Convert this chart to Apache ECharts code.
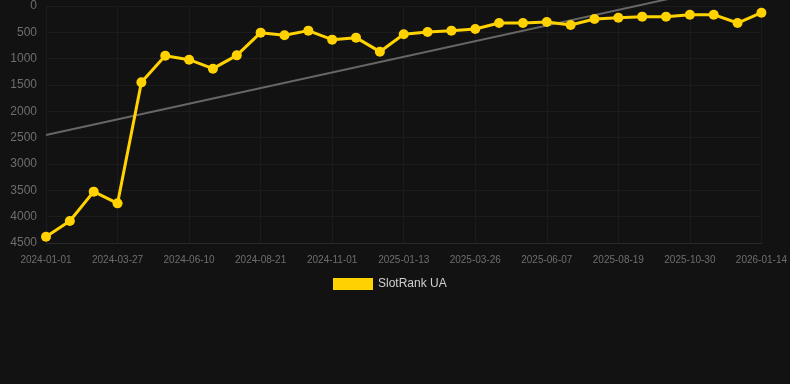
<!DOCTYPE html>
<html><head><meta charset="utf-8">
<script src="https://cdn.jsdelivr.net/npm/echarts@6/dist/echarts.min.js"></script>
<style>html,body{margin:0;padding:0;background:#121212;}#c{width:790px;height:384px;}</style>
</head><body><div id="c"></div>
<script>
const categories = ['2024-01-01','2024-01-30','2024-02-27','2024-03-27','2024-04-21','2024-05-16','2024-06-10','2024-07-04','2024-07-28','2024-08-21','2024-09-14','2024-10-08','2024-11-01','2024-11-25','2024-12-19','2025-01-13','2025-02-06','2025-03-02','2025-03-26','2025-04-19','2025-05-14','2025-06-07','2025-07-01','2025-07-26','2025-08-19','2025-09-12','2025-10-06','2025-10-30','2025-11-24','2025-12-19','2026-01-14'];
const rankValues = [4380,4082,3525,3747,1450,943,1019,1190,937,506,557,468,639,601,867,538,494,468,437,323,323,304,361,247,222,202,202,165,165,323,127];
const trendStart = 2450;
const trendEnd = -520;
const yTicks = {min:0, max:4500, interval:500};

const trendData = categories.map((c,i)=> i===0 ? trendStart : (i===categories.length-1 ? trendEnd : null));

const chart = echarts.init(document.getElementById('c'));
chart.setOption({
  backgroundColor:'#121212',
  animation:false,
  grid:{left:46,right:28,top:6,bottom:141},
  legend:{data:['SlotRank UA'],top:273,left:328,itemWidth:40,itemHeight:12,icon:'rect',
    textStyle:{color:'#d0d0d0',fontSize:12,fontFamily:'Liberation Sans, Arial, sans-serif'}},
  xAxis:{type:'category',data:categories,boundaryGap:false,
    axisLine:{onZero:false,lineStyle:{color:'#2a2a2a'}},
    axisTick:{show:false},
    axisLabel:{interval:2,color:'#6e6e6e',fontSize:10,margin:12,fontFamily:'Liberation Sans, Arial, sans-serif'},
    splitLine:{show:true,interval:2,lineStyle:{color:'#1c1c1c'}}},
  yAxis:{type:'value',inverse:true,min:yTicks.min,max:yTicks.max,interval:yTicks.interval,
    axisLine:{show:false},axisTick:{show:false},
    axisLabel:{color:'#6e6e6e',fontSize:12,margin:9,formatter:v=>String(v),fontFamily:'Liberation Sans, Arial, sans-serif'},
    splitLine:{lineStyle:{color:'#1c1c1c'}}},
  series:[
    {name:'Trend',type:'line',data:trendData,connectNulls:true,symbol:'none',clip:false,
     lineStyle:{color:'#666',width:2},z:1,silent:true},
    {name:'SlotRank UA',type:'line',data:rankValues,symbol:'circle',symbolSize:10,
     itemStyle:{color:'#FFD200'},lineStyle:{color:'#FFD200',width:3},z:3}
  ]
});
</script></body></html>
